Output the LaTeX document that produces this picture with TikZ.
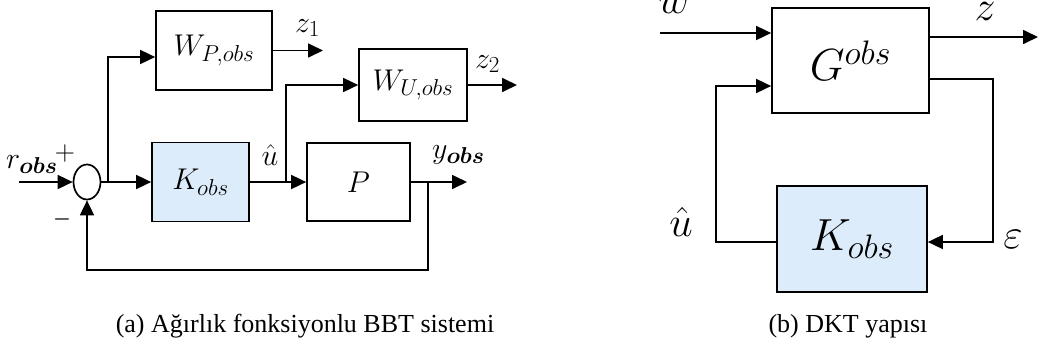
\RequirePackage{fix-cm}
\documentclass[tikz,border=0pt]{standalone}
\usepackage{bm}
\usepackage{fontspec}
\newfontfamily\capfont{Liberation Serif}
\usetikzlibrary{arrows.meta,positioning,shapes.geometric,calc}
\definecolor{kblue}{RGB}{220,236,251}
\DeclareMathSizes{30}{30}{23}{18}
\DeclareMathSizes{45}{45}{34}{28}
\DeclareMathSizes{42}{42}{32}{26}

\begin{document}
\begin{tikzpicture}[
    x=1pt, y=-1pt,
    font=\fontsize{30}{35}\selectfont,
    blockbox/.style={draw, line width=1.7pt, inner sep=0pt},
    kbox/.style={blockbox, fill=kblue},
    sumnode/.style={draw, ellipse, line width=1.7pt, minimum width=27pt, minimum height=35pt, inner sep=0pt},
    line/.style={-{Triangle[length=15pt,width=14pt]}, line width=1.7pt},
    sig/.style={inner sep=0pt},
    biglabel/.style={font=\fontsize{45}{50}\selectfont},
    siglabel/.style={sig, font=\fontsize{42}{46}\selectfont},
    caption/.style={font=\capfont\fontsize{26}{30}\selectfont, anchor=base}
]
    \clip (0,0) rectangle (1039,349);

    % (a) weighted loop: blocks
    \node[sumnode] (sum) at (87,182) {};
    \node[kbox, minimum width=97pt, minimum height=79pt] (Kl) at (200.5,182) {$K_{obs}$};
    \node[blockbox, minimum width=103pt, minimum height=78pt] (P) at (358.5,182) {$P$};
    \node[blockbox, minimum width=116pt, minimum height=79pt] (WP) at (214,50.5) {$W_{P,obs}$};
    \node[blockbox, minimum width=108pt, minimum height=72pt] (WU) at (413,85) {$W_{U,obs}$};

    \coordinate (rin) at (19,182);
    \coordinate (br1) at (108,182);
    \coordinate (br2) at (286,182);
    \coordinate (br3) at (428,182);
    \coordinate (z1out) at (323,50.5);
    \coordinate (z2out) at (517,85);
    \coordinate (yout) at (467,182);

    % (a) connections
    \draw[line] (rin) -- (sum.west);
    \draw[line] (sum) -- (Kl);
    \draw[line] (br1) |- ([yshift=-6.5pt]WP.west);
    \draw[line] (WP) -- (z1out);
    \draw[line] (Kl) -- (P);
    \draw[line] (br2) |- (WU);
    \draw[line] (WU) -- (z2out);
    \draw[line] (P) -- (yout);
    \draw[line] (br3) -- ++(0,88) -| (sum.south);

    % (a) signal labels
    \node[sig, anchor=base west] (rlab) at (6,168) {$r_{\bm{obs}}$};
    \node[sig, font=\fontsize{28}{32}\selectfont] (plus) at (65,153) {$+$};
    \node[sig, font=\fontsize{20}{24}\selectfont] (minus) at (62,219) {$\bm{-}$};
    \node[sig, anchor=base] (ul) at (270,165) {$\hat{u}$};
    \node[sig, anchor=base west] (ylab) at (432,158) {$y_{\bm{obs}}$};
    \node[sig, anchor=base west] (z1) at (295,32) {$z_1$};
    \node[sig, anchor=base west] (z2) at (475,68) {$z_2$};

    % (b) LFT structure: blocks
    \node[blockbox, minimum width=157pt, minimum height=105pt, biglabel] (G) at (850.5,60.5) {$G^{obs}$};
    \node[kbox, minimum width=150pt, minimum height=106pt, biglabel] (Kr) at (852,239) {$K_{obs}$};

    \coordinate (win) at (660,33);
    \coordinate (zout) at (1038,37);
    \coordinate (ecorner) at (993,242);
    \coordinate (ucorner) at (716,242);

    % (b) connections
    \draw[line] (win) -- (win -| G.west);
    \draw[line] ([yshift=23.5pt]G.east) -- (zout);
    \draw[line] ([yshift=-18.5pt]G.east) -| (ecorner) -- (ecorner -| Kr.east);
    \draw[line] (Kr.west |- ucorner) -- (ucorner) |- ([yshift=-25.5pt]G.west);

    % (b) signal labels
    \node[siglabel, anchor=base] (wlab) at (674,13) {$w$};
    \node[siglabel, anchor=base] (zlab) at (985,20) {$z$};
    \node[siglabel, anchor=base] (ur) at (681,236) {$\hat{u}$};
    \node[siglabel, anchor=base] (eps) at (1013,248) {$\varepsilon$};

    % captions
    \node[caption] (capa) at (305,332) {(a) Ağırlık fonksiyonlu BBT sistemi};
    \node[caption] (capb) at (848,332) {(b) DKT yapısı};
\end{tikzpicture}
\end{document}
